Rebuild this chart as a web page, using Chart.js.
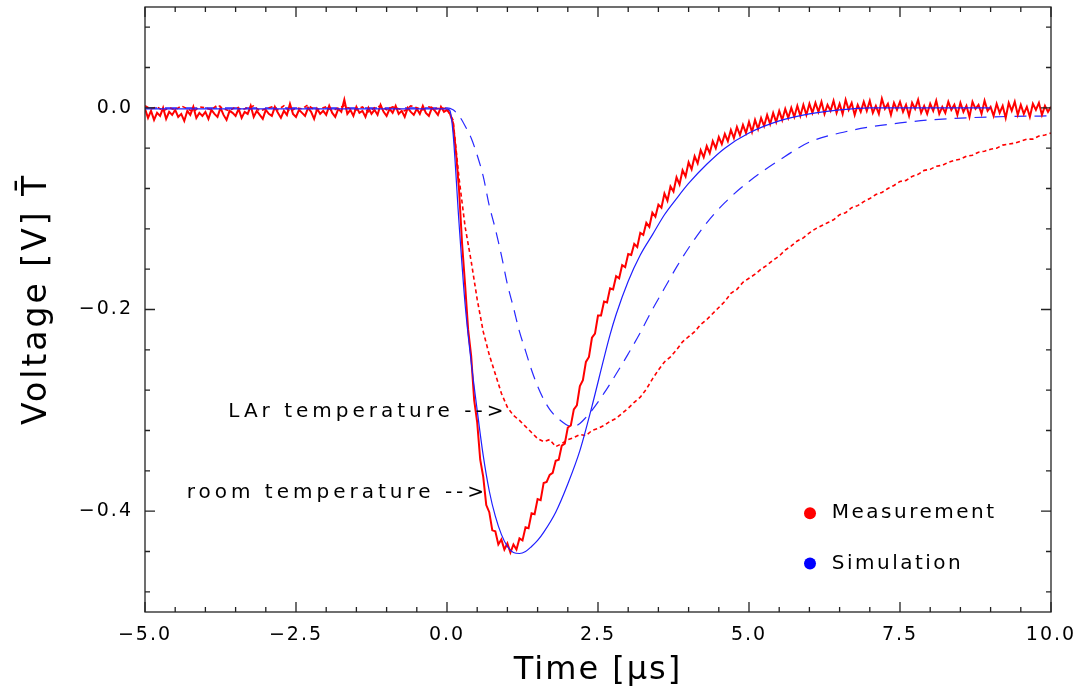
<!DOCTYPE html>
<html>
<head>
<meta charset="utf-8">
<script src="https://cdn.jsdelivr.net/npm/chart.js@4.4.1/dist/chart.umd.min.js"></script>
<style>
  body { margin: 0; background: #fff; }
  #wrap { width: 1076px; height: 690px; }
</style>
</head>
<body>
<div id="wrap"><canvas id="pulse"></canvas></div>
<script>
// tick labels
const xTicks = [-5, -2.5, 0, 2.5, 5, 7.5, 10];
const yTicks = [-0.4, -0.2, 0.0];

// measurement at room temperature, one sample every 0.05 us from -5 us (mV)
const measRoomStart = -5;
const measRoomStep = 0.05;
const measRoom = [
  -1, -10, -3, -12, -5, -8, 0, -11, -4, -7,
  -2, -9, -6, -13, -3, -7, 1, -10, -5, -8,
  -4, -11, -2, -6, -9, 0, -7, -12, -3, -5,
  -8, -1, -10, -4, -6, 2, -9, -3, -7, -11,
  -2, -6, -8, 1, -5, -10, -3, -7, 4, -6,
  -9, -2, -5, -8, 0, -4, -11, -1, -6, -3,
  -7, 2, -5, -9, -1, -4, 8, -6, -2, -8,
  1, -5, -3, -9, 0, -6, -2, -7, 3, -4,
  -8, -1, -5, 2, -6, -3, -9, 0, -4, -7,
  -1, -6, 2, -5, -8, 0, -3, -7, 1, -4,
  -2, -6, -15, -45, -82, -135, -176, -220, -246, -290,
  -312, -349, -366, -394, -401, -419, -420, -433, -428, -438,
  -432, -441, -433, -438, -427, -429, -416, -417, -402, -403,
  -388, -389, -372, -371, -364, -362, -350, -349, -335, -333,
  -317, -315, -299, -295, -276, -270, -252, -247, -228, -224,
  -206, -206, -192, -193, -179, -180, -167, -169, -156, -158,
  -145, -146, -135, -138, -124, -126, -114, -118, -104, -108,
  -96, -99, -85, -92, -78, -83, -69, -76, -62, -68,
  -54, -61, -48, -55, -42, -49, -38, -45, -33, -40,
  -29, -36, -26, -33, -22, -30, -19, -27, -17, -25,
  -14, -24, -12, -21, -10, -18, -7, -16, -5, -14,
  -3, -12, -1, -10, 0, -9, 2, -8, 3, -7,
  4, -5, 5, -4, 6, -6, 3, -3, 7, -5,
  4, -6, 8, -2, 5, -7, 3, -4, 6, -3,
  7, -5, 2, -6, 9, -1, 4, -7, 5, -2,
  6, -4, 3, -8, 5, -1, 8, -5, 2, -6,
  4, -3, 7, -6, 1, -5, 6, -2, 3, -7,
  5, -4, 2, -9, 6, -1, 3, -6, 7, -3,
  1, -8, 4, -5, 2, -10, 5, -3, 6, -7,
  3, -6, 1, -9, 4, -2, 5, -7, 2, -4,
  1
];

// measurement at LAr temperature, one sample every 0.1 us from -5 us (mV)
const measLArStart = -5;
const measLArStep = 0.1;
const measLAr = [
  2, -1, 1, -3, 0, -2, 2, -1, -4, 1,
  0, -2, 3, -1, -3, 1, -2, 0, 2, -3,
  -1, 1, -2, 2, -4, 0, -1, 3, -2, -1,
  1, -3, 0, 2, -1, -2, 1, -4, 0, 2,
  -2, 1, -1, -3, 2, 0, -2, 1, -1, 0,
  -1, -12, -70, -118, -152, -190, -222, -245, -264, -283,
  -297, -305, -310, -316, -322, -328, -331, -329, -336, -333,
  -329, -327, -324, -325, -320, -318, -315, -311, -308, -303,
  -298, -292, -287, -279, -269, -260, -252, -247, -240, -232,
  -227, -222, -215, -210, -204, -198, -192, -184, -180, -173,
  -169, -165, -160, -156, -151, -147, -141, -137, -132, -129,
  -124, -120, -117, -114, -111, -106, -104, -99, -97, -93,
  -90, -86, -84, -80, -77, -73, -72, -68, -66, -62,
  -61, -58, -57, -54, -52, -51, -48, -47, -44, -43,
  -41, -40, -37, -36, -35, -33, -31, -31, -28, -27,
  -25
];

// simulation, room temperature (us, mV)
const simRoomT = [-5, 0, 0.05, 0.1, 0.2, 0.3, 0.4, 0.5, 0.6, 0.7,
  0.8, 0.9, 1.0, 1.1, 1.2, 1.3, 1.4, 1.5, 1.6, 1.8,
  2.0, 2.2, 2.4, 2.6, 2.7, 2.8, 3.0, 3.2, 3.4, 3.6,
  3.8, 4.0, 4.3, 4.6, 5.0, 5.5, 6.0, 6.5, 7.0, 8.0, 9.0];
const simRoom = [-1, -1, -3, -25, -115, -195, -252, -300, -345, -380,
  -405, -423, -435, -441, -442, -440, -435, -429, -421, -401,
  -373, -340, -296, -248, -225, -205, -172, -146, -126, -106,
  -90, -75, -56, -40, -25, -13, -6, -2, 0, 0, 0];

// simulation, LAr temperature (us, mV)
const simLArT = [-5, 0, 0.1, 0.2, 0.3, 0.4, 0.5, 0.6, 0.7, 0.8,
  0.9, 1.0, 1.1, 1.2, 1.3, 1.4, 1.5, 1.6, 1.7, 1.8,
  1.9, 2.0, 2.1, 2.2, 2.3, 2.4, 2.6, 2.8, 3.0, 3.2,
  3.4, 3.6, 3.8, 4.0, 4.3, 4.6, 5.0, 5.5, 6.0, 6.5,
  7.0, 7.5, 8.0, 9.0, 10.0];
const simLAr = [0, 0, -2, -8, -18, -30, -47, -68, -97, -120,
  -146, -175, -198, -222, -241, -260, -276, -289, -299, -306,
  -311, -315, -316, -313, -307, -300, -283, -264, -244, -223,
  -200, -179, -158, -139, -114, -94, -73, -52, -34, -25,
  -19, -15, -12, -9, -8];

const FONT = "'DejaVu Sans', sans-serif";
const sampled = (start, step, vals) => vals.map((v, i) => ({ x: +(start + i * step).toFixed(2), y: v / 1000 }));
const paired = (ts, vals) => ts.map((t, i) => ({ x: t, y: vals[i] / 1000 }));
const fmt = v => v.toFixed(1).replace('-', '\u2212');

const spacing = {
  id: 'spacing',
  beforeUpdate(chart) { chart.ctx.letterSpacing = '2px'; },
  beforeDraw(chart) { chart.ctx.letterSpacing = '2px'; }
};

// frame, inward ticks, y title, arrows and legend
const frame = {
  id: 'frame',
  afterDraw(chart) {
    const { ctx, chartArea: a, scales: { x, y } } = chart;
    ctx.save();
    ctx.strokeStyle = '#222';
    ctx.lineWidth = 1.3;
    ctx.strokeRect(a.left, a.top, a.right - a.left, a.bottom - a.top);
    ctx.beginPath();
    for (let k = -10; k <= 20; k++) {
      const px = x.getPixelForValue(k * 0.5);
      const len = k % 5 === 0 ? 10 : 5;
      ctx.moveTo(px, a.bottom); ctx.lineTo(px, a.bottom - len);
      ctx.moveTo(px, a.top); ctx.lineTo(px, a.top + len);
    }
    for (let k = -12; k <= 2; k++) {
      const py = y.getPixelForValue(k * 0.04);
      const len = k % 5 === 0 ? 10 : 5;
      ctx.moveTo(a.left, py); ctx.lineTo(a.left + len, py);
      ctx.moveTo(a.right, py); ctx.lineTo(a.right - len, py);
    }
    ctx.stroke();

    ctx.fillStyle = '#000';
    ctx.textBaseline = 'middle';

    // y axis title
    ctx.save();
    ctx.translate(37, 425);
    ctx.rotate(-Math.PI / 2);
    ctx.font = '33px ' + FONT;
    ctx.letterSpacing = '3px';
    ctx.textAlign = 'left';
    ctx.fillText('Voltage [V] T\u0304', 0, 0);
    ctx.restore();

    ctx.font = '20px ' + FONT;
    ctx.letterSpacing = '4px';
    ctx.textAlign = 'right';
    ctx.fillText('LAr temperature -->', x.getPixelForValue(1.0), y.getPixelForValue(-0.301));
    ctx.fillText('room temperature -->', x.getPixelForValue(0.68), y.getPixelForValue(-0.382));

    const items = [['Measurement', 'rgb(255,0,0)', -0.402], ['Simulation', 'rgb(0,0,255)', -0.452]];
    ctx.font = '20px ' + FONT;
    ctx.letterSpacing = '2.5px';
    ctx.textAlign = 'left';
    items.forEach(([label, col, v]) => {
      const py = y.getPixelForValue(v);
      ctx.fillStyle = col;
      ctx.beginPath();
      ctx.arc(x.getPixelForValue(6.01), py, 6, 0, Math.PI * 2);
      ctx.fill();
      ctx.fillStyle = '#000';
      ctx.fillText(label, x.getPixelForValue(6.37), py);
    });
    ctx.restore();
  }
};

new Chart(document.getElementById('pulse'), {
  type: 'line',
  data: {
    datasets: [
      {
        label: 'Simulation room',
        data: paired(simRoomT, simRoom),
        borderColor: 'rgb(30,30,255)',
        borderWidth: 1.2,
        cubicInterpolationMode: 'monotone',
        order: 0
      },
      {
        label: 'Measurement room',
        data: sampled(measRoomStart, measRoomStep, measRoom),
        borderColor: 'rgb(255,0,0)',
        borderWidth: 2,
        order: 1
      },
      {
        label: 'Measurement LAr',
        data: sampled(measLArStart, measLArStep, measLAr),
        borderColor: 'rgb(255,0,0)',
        borderWidth: 1.6,
        borderDash: [4, 3],
        order: 2
      },
      {
        label: 'Simulation LAr',
        data: paired(simLArT, simLAr),
        borderColor: 'rgb(40,40,255)',
        borderWidth: 1.2,
        borderDash: [12, 8],
        cubicInterpolationMode: 'monotone',
        order: 3
      }
    ]
  },
  options: {
    responsive: true,
    maintainAspectRatio: false,
    animation: false,
    elements: { point: { radius: 0 } },
    layout: { padding: { top: 7, right: 25, left: 0, bottom: 0 } },
    plugins: {
      legend: { display: false },
      tooltip: { enabled: false }
    },
    scales: {
      x: {
        type: 'linear',
        min: -5,
        max: 10,
        afterBuildTicks: s => { s.ticks = xTicks.map(value => ({ value })); },
        afterFit: s => { s.height = 78; s.paddingLeft = 0; s.paddingRight = 0; },
        grid: { display: false, drawTicks: false },
        border: { display: false },
        ticks: {
          color: '#000',
          padding: 12,
          maxRotation: 0,
          font: { family: FONT, size: 19 },
          callback: v => fmt(v)
        },
        title: {
          display: true,
          text: 'Time [\u03bcs]',
          color: '#000',
          padding: { top: 0, bottom: 0 },
          font: { family: FONT, size: 32 }
        }
      },
      y: {
        type: 'linear',
        min: -0.5,
        max: 0.1,
        afterBuildTicks: s => { s.ticks = yTicks.map(value => ({ value })); },
        afterFit: s => { s.width = 145; s.paddingTop = 0; s.paddingBottom = 0; },
        grid: { display: false, drawTicks: false },
        border: { display: false },
        ticks: {
          color: '#000',
          padding: 12,
          font: { family: FONT, size: 19 },
          callback: v => fmt(v)
        },
        title: { display: false }
      }
    }
  },
  plugins: [spacing, frame]
});
</script>
</body>
</html>
